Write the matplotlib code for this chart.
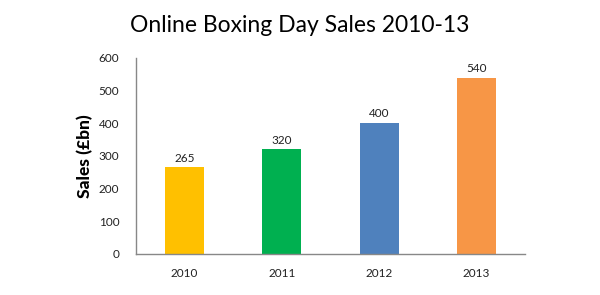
import matplotlib
matplotlib.use("Agg")
import matplotlib.pyplot as plt

years = ["2010", "2011", "2012", "2013"]
sales = [265, 320, 400, 540]
colors = ["#FFC000", "#00B050", "#4F81BD", "#F79646"]
yticks = [0, 100, 200, 300, 400, 500, 600]

plt.rcParams['font.family'] = ['Lato', 'DejaVu Sans']

fig = plt.figure(figsize=(6, 2.95), dpi=100)
ax = fig.add_axes([136/600, 1-254/295, (525-136)/600, (254-58)/295])
x = range(len(years))
bars = ax.bar(x, sales, width=0.4, color=colors)
for xi, v in zip(x, sales):
    ax.text(xi, v + 12, str(v), ha='center', va='bottom', fontsize=8.5, color='#222222')
ax.set_xlim(-0.5, 3.5)
ax.set_ylim(0, 600)
ax.set_yticks(yticks)
ax.set_xticks(list(x))
ax.set_xticklabels(years)
ax.tick_params(axis='both', length=0, labelsize=8.5, colors='#222222')
ax.tick_params(axis='y', pad=12)
ax.tick_params(axis='x', pad=10)
for s in ['top', 'right']:
    ax.spines[s].set_visible(False)
for s in ['left', 'bottom']:
    ax.spines[s].set_color('#888888')
    ax.spines[s].set_linewidth(1)
ax.set_ylabel("Sales (£bn)", fontsize=12.5, fontweight='black', labelpad=4)
fig.text(0.5, 0.915, "Online Boxing Day Sales 2010-13", ha='center', va='center', fontsize=16.5)
fig.savefig("out.png", dpi=100)
